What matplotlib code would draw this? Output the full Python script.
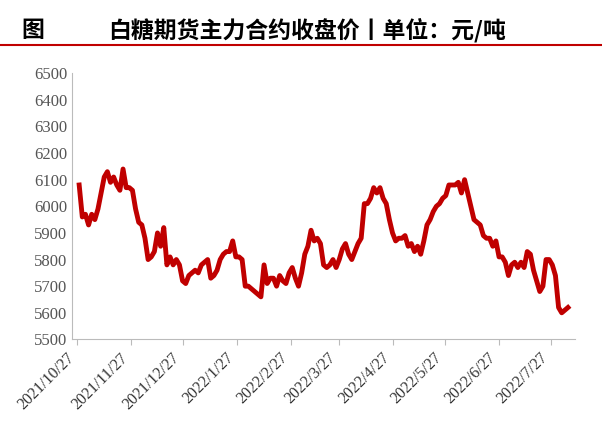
import matplotlib
matplotlib.use("Agg")
import matplotlib.pyplot as plt
import pandas as pd

values = [6080,5960,5970,5930,5970,5950,5990,6050,6110,6130,6090,6110,6080,6060,6140,6070,6070,6060,5990,5940,
          5930,5880,5800,5810,5830,5900,5850,5920,5780,5810,5780,5800,5780,5720,5710,5740,5750,5760,5750,5780,
          5790,5800,5730,5740,5760,5800,5820,5830,5830,5870,5810,5810,5800,5700,5700,5690,5680,5670,5660,5780,
          5710,5730,5730,5700,5740,5720,5710,5750,5770,5730,5700,5750,5820,5850,5910,5870,5880,5860,5780,5770,
          5780,5800,5770,5800,5840,5860,5820,5800,5830,5860,5880,6010,6010,6030,6070,6050,6070,6030,6010,5950,
          5900,5870,5880,5880,5890,5850,5860,5830,5850,5820,5870,5930,5950,5980,6000,6010,6030,6040,6080,6080,
          6080,6090,6050,6100,6050,6000,5950,5940,5930,5890,5880,5880,5850,5870,5810,5810,5790,5740,5780,5790,
          5770,5790,5770,5830,5820,5760,5720,5680,5700,5800,5800,5780,5740,5620,5600,5610,5620]
start, end = "2021-10-28", "2022-08-06"
tick_dates = ["2021-10-27","2021-11-27","2021-12-27","2022-01-27","2022-02-27","2022-03-27",
              "2022-04-27","2022-05-27","2022-06-27","2022-07-27"]
dates = pd.date_range(start, end, periods=len(values))

plt.rcParams['font.family'] = ['Noto Sans CJK SC', 'DejaVu Sans']
fig = plt.figure(figsize=(6.02, 4.38), dpi=100)
fig.text(0.035, 0.915, "图", fontsize=16.5, fontweight='bold')
fig.text(0.18, 0.915, "白糖期货主力合约收盘价丨单位：元/吨", fontsize=16.5, fontweight='bold')
fig.add_artist(plt.Line2D([0.0, 1.0], [0.898, 0.898], color='#C00000', lw=1.5))

ax = fig.add_axes([0.12, 0.225, 0.835, 0.608])
ax.plot(dates, values, color='#C00000', lw=3.5, solid_joinstyle='round')
ax.set_ylim(5500, 6500)
ax.set_yticks(range(5500, 6501, 100))
ax.set_xlim(pd.Timestamp("2021-10-24"), pd.Timestamp("2022-08-10"))
td = pd.to_datetime(tick_dates)
ax.set_xticks(td)
ax.set_xticklabels([f"{d.year}/{d.month}/{d.day}" for d in td], rotation=45, ha='right',
                   fontfamily='Liberation Serif', fontsize=11.5)
for l in ax.get_yticklabels():
    l.set_fontfamily('Liberation Serif'); l.set_fontsize(12); l.set_color('#555555')
for l in ax.get_xticklabels():
    l.set_color('#333333')
ax.spines['top'].set_visible(False)
ax.spines['right'].set_visible(False)
ax.spines['left'].set_color('#bbbbbb')
ax.spines['bottom'].set_color('#bbbbbb')
ax.tick_params(axis='y', length=0)
ax.tick_params(axis='x', length=4, color='#bbbbbb')
fig.savefig("out.png", dpi=100)
